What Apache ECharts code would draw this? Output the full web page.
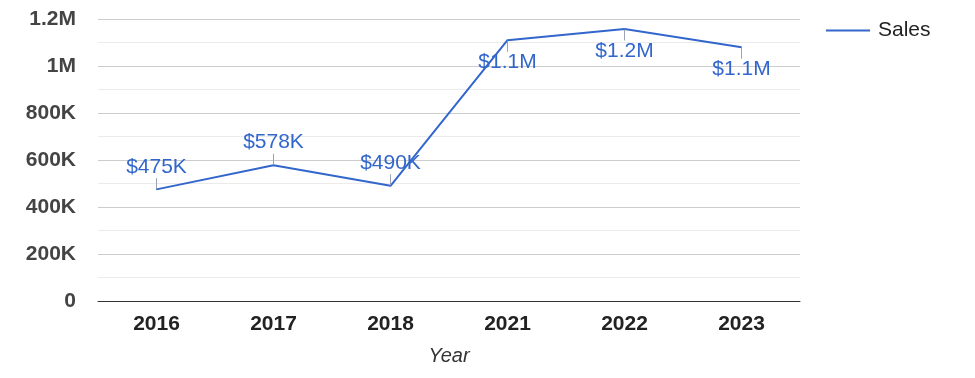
<!DOCTYPE html>
<html>
<head>
<meta charset="utf-8">
<style>
  html, body { margin: 0; padding: 0; background: #fff; }
  #main { width: 975px; height: 378px; }
</style>
<script src="https://cdn.jsdelivr.net/npm/echarts@6/dist/echarts.min.js"></script>
</head>
<body>
<div id="main"></div>
<script>
var years = ['2016', '2017', '2018', '2021', '2022', '2023'];
var sales = [475000, 578000, 490000, 1110000, 1157000, 1080000];
// which labels sit under the line instead of over it
var labelBelow = [false, false, false, true, true, true];

var blue = '#3366cc';

function money(v) {
  if (v >= 1e6) return '$' + (v / 1e6).toFixed(1) + 'M';
  return '$' + Math.round(v / 1000) + 'K';
}

var chart = echarts.init(document.getElementById('main'));
chart.setOption({
  animation: false,
  textStyle: { fontFamily: 'Liberation Sans, Arial, sans-serif' },
  grid: { left: 98, right: 175, top: 19, bottom: 77 },
  legend: {
    left: 821, top: 15,
    itemWidth: 44, itemHeight: 2, itemGap: 8,
    icon: 'rect',
    textStyle: { fontSize: 21, color: '#222', padding: [0, 0, 0, 3] },
    data: ['Sales']
  },
  xAxis: {
    type: 'category',
    data: years,
    axisTick: { show: false },
    axisLine: { lineStyle: { color: '#333', width: 1 } },
    axisLabel: { fontSize: 21, fontWeight: 'bold', color: '#222', margin: 13 },
    name: 'Year',
    nameLocation: 'middle',
    nameGap: 45,
    nameTextStyle: { fontSize: 20, fontStyle: 'italic', color: '#333' }
  },
  yAxis: {
    type: 'value',
    min: 0, max: 1200000, interval: 200000,
    axisLine: { show: false },
    axisTick: { show: false },
    axisLabel: {
      fontSize: 21, fontWeight: 'bold', color: '#444', margin: 22,
      formatter: function (v) {
        if (v === 0) return '0';
        if (v >= 1e6) return (v / 1e6) + 'M';
        return (v / 1000) + 'K';
      }
    },
    splitLine: { lineStyle: { color: '#cccccc' } },
    minorTick: { show: false, splitNumber: 2 },
    minorSplitLine: { show: true, lineStyle: { color: '#ebebeb' } }
  },
  series: [{
    name: 'Sales',
    type: 'line',
    symbol: 'circle',
    symbolSize: 1,
    showSymbol: true,
    lineStyle: { color: blue, width: 2 },
    itemStyle: { color: blue },
    data: sales.map(function (v, i) {
      var below = labelBelow[i];
      return {
        value: v,
        label: {
          show: true,
          position: below ? 'bottom' : 'top',
          distance: 0,
          formatter: below ? '{l|}\n{t|' + money(v) + '}' : '{t|' + money(v) + '}\n{l|}',
          rich: {
            t: { fontSize: 21, color: blue, lineHeight: 22 },
            l: { width: 1, height: 11, lineHeight: 11, backgroundColor: '#9aa3b5' }
          }
        }
      };
    })
  }]
});
</script>
</body>
</html>
